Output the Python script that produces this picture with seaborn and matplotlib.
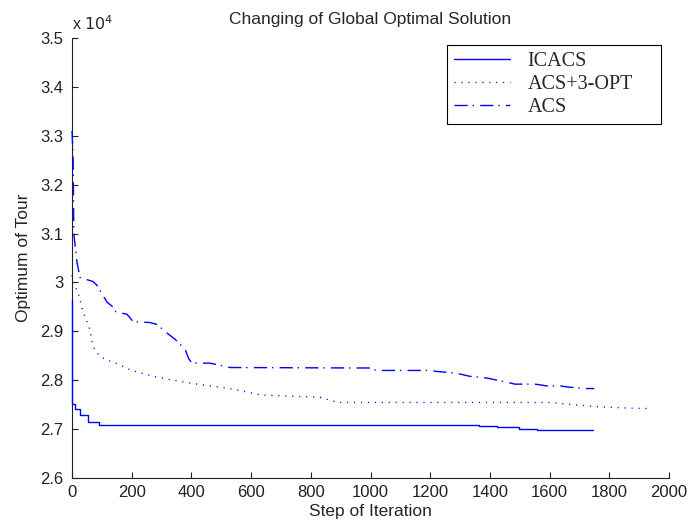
import pandas as pd
import seaborn as sns
import matplotlib.pyplot as plt
from matplotlib.ticker import FuncFormatter

# ICACS (solid)
icacs_x = [0, 0, 10, 10, 27, 27, 55, 55, 90, 90, 1363, 1363, 1424, 1424, 1497, 1497, 1557, 1557, 1745]
icacs_y = [29650, 27510, 27510, 27420, 27420, 27290, 27290, 27140, 27140, 27090, 27090, 27060, 27060,
           27035, 27035, 27005, 27005, 26985, 26985]

# ACS+3-OPT (dotted)
opt_x = [0, 3, 20, 37, 60, 70, 84, 110, 155, 200, 272, 339, 440, 519, 586, 630, 831, 891,
         1612, 1658, 1700, 1770, 1863, 1940]
opt_y = [30150, 30000, 29800, 29400, 29040, 28700, 28550, 28430, 28330, 28200, 28080, 28000,
         27900, 27840, 27760, 27700, 27650, 27545, 27545, 27510, 27490, 27455, 27430, 27420]

# ACS (dash-dot)
acs_x = [0, 4, 6, 17, 27, 70, 84, 97, 117, 137, 147, 160, 184, 194, 204, 261, 285, 315, 345,
         379, 392, 402, 462, 485, 530, 998, 1020, 1200, 1222, 1260, 1290, 1333, 1367, 1394,
         1424, 1457, 1484, 1551, 1595, 1641, 1662, 1685, 1709, 1750]
acs_y = [33100, 32500, 31000, 30400, 30100, 30020, 29940, 29800, 29600, 29500, 29400, 29380,
         29350, 29280, 29200, 29180, 29140, 28980, 28840, 28630, 28430, 28350, 28350, 28320,
         28260, 28250, 28200, 28200, 28180, 28160, 28140, 28080, 28060, 28040, 28000, 27960,
         27920, 27920, 27880, 27880, 27860, 27850, 27830, 27830]

names = ['ICACS', 'ACS+3-OPT', 'ACS']
frames = []
for name, xs, ys in zip(names, [icacs_x, opt_x, acs_x], [icacs_y, opt_y, acs_y]):
    frames.append(pd.DataFrame({'step': xs, 'value': ys, 'method': name}))
df = pd.concat(frames, ignore_index=True)

sns.set_style('ticks')
plt.rcParams['font.family'] = ['Liberation Sans', 'DejaVu Sans']

fig = plt.figure(figsize=(6.89, 5.25), dpi=100)
ax = fig.add_axes([0.1045, 0.0895, 0.8665, 0.8381])

blue = '#0000ff'
sns.lineplot(data=df, x='step', y='value', hue='method', style='method',
             palette={n: blue for n in names},
             dashes={'ICACS': '', 'ACS+3-OPT': (0.8, 4.2), 'ACS': (9.5, 3.5, 1, 4.5)},
             estimator=None, sort=False, units='method', lw=1.0, ax=ax, legend=True)
for line in ax.lines:
    line.set_clip_on(False)
    line.set_zorder(3)

ax.set_xlim(0, 2000)
ax.set_ylim(26000, 35000)
ax.set_xticks(range(0, 2001, 200))
ax.set_yticks(range(26000, 35001, 1000))
ax.yaxis.set_major_formatter(FuncFormatter(lambda v, p: '%g' % (v / 1e4)))
ax.tick_params(direction='in', length=4.5, width=0.8, labelsize=12, colors='#222222')
ax.tick_params(axis='y', pad=6)
ax.tick_params(axis='x', pad=5)
for s in ['top', 'right']:
    ax.spines[s].set_visible(False)
for s in ['left', 'bottom']:
    ax.spines[s].set_color('#222222')
    ax.spines[s].set_linewidth(0.8)

ax.set_title('Changing of Global Optimal Solution', fontsize=12.5, pad=10)
ax.set_xlabel('Step of Iteration', fontsize=12.5, labelpad=3)
ax.set_ylabel('Optimum of Tour', fontsize=12.5, labelpad=7)
ax.text(0.0, 1.012, r'x $10^{4}$', transform=ax.transAxes, fontsize=11.5, va='bottom', ha='left')

handles, labels = ax.get_legend_handles_labels()
leg = ax.legend(handles, labels, loc='upper left', bbox_to_anchor=(0.6488, 0.7643, 0.3106, 0.15),
                bbox_transform=fig.transFigure, mode='expand',
                frameon=True, fancybox=False, edgecolor='black', framealpha=1,
                prop={'family': 'Liberation Serif', 'size': 14.5}, handlelength=2.8,
                borderpad=0.35, labelspacing=0.2, handletextpad=0.85, borderaxespad=0)
leg.get_frame().set_linewidth(0.8)

fig.savefig('out.png', dpi=100)
